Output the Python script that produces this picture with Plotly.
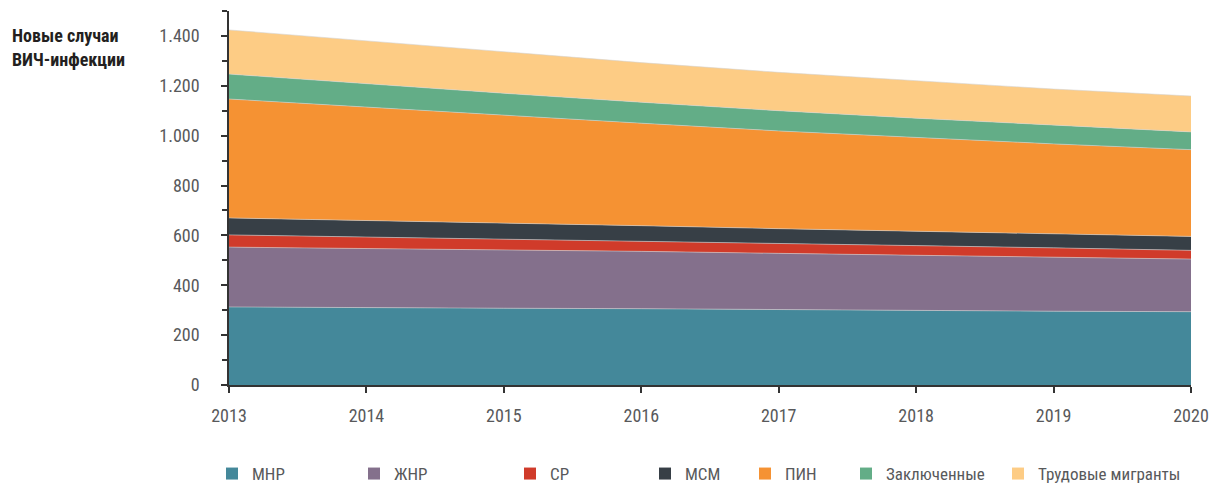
import plotly.graph_objects as go

years = [2013, 2014, 2015, 2016, 2017, 2018, 2019, 2020]
series_names = ["МНР", "ЖНР", "СР", "МСМ", "ПИН", "Заключенные", "Трудовые мигранты"]
mnr = [313, 312, 308, 306, 302, 300, 296, 294]
zhnr = [240, 236, 236, 230, 226, 221, 219, 211]
sr = [49, 46, 42, 42, 39, 38, 35, 35]
msm = [68, 66, 65, 61, 60, 57, 56, 56]
pin = [477, 454, 429, 411, 392, 376, 361, 348]
zak = [100, 93, 90, 84, 81, 78, 75, 71]
trud = [177, 173, 164, 159, 154, 149, 145, 144]
y_ticks = [0, 200, 400, 600, 800, 1000, 1200, 1400]

values = [mnr, zhnr, sr, msm, pin, zak, trud]
colors = ["#44889a", "#84708c", "#d03b2a", "#373f46", "#f59233", "#63ad87", "#fdcc85"]
legend_px = [233, 375, 531, 666, 766, 867, 1019]

FONT = "Roboto Condensed, DejaVu Sans Condensed, sans-serif"
GREY = "#58595b"

W, H = 1213, 484
L, T = 229, 11
R = W - 1191
B = H - 385
pw = W - L - R
ph = H - T - B


def fx(p):
    return (p - L) / pw


def fy(p):
    return (H - B - p) / ph


fig = go.Figure()
for name, vals, col in zip(series_names, values, colors):
    fig.add_trace(go.Scatter(
        x=years, y=vals, name=name, stackgroup="one", mode="lines",
        line=dict(width=0.8, color="rgba(210,210,210,0.7)"),
        fillcolor=col, showlegend=False, hoverinfo="x+y+name"))

layout_legends = {}
for i, (name, col, px) in enumerate(zip(series_names, colors, legend_px)):
    key = "legend" if i == 0 else f"legend{i+1}"
    fig.add_trace(go.Scatter(
        x=[None], y=[None], mode="markers", name=name,
        marker=dict(symbol="square", size=12, color=col),
        legend=key, showlegend=True))
    layout_legends[key] = dict(
        x=fx(px - 21), xanchor="left",
        y=fy(474), yanchor="middle", orientation="h",
        font=dict(family=FONT, size=17, color=GREY),
        bgcolor="rgba(0,0,0,0)", borderwidth=0, tracegroupgap=0,
        itemclick=False, itemdoubleclick=False)

fig.update_layout(
    width=W, height=H,
    margin=dict(l=L, r=R, t=T, b=B, autoexpand=False),
    plot_bgcolor="white", paper_bgcolor="white",
    separators=",.",
    font=dict(family=FONT, size=18, color=GREY),
    xaxis=dict(
        range=[2013, 2020], tickvals=years, ticktext=[str(y) for y in years],
        showgrid=False, zeroline=False, showline=True, linecolor="#333333", linewidth=1.5,
        ticks="outside", ticklen=6, tickcolor="#333333", tickwidth=1.5,
        ticklabelstandoff=8, automargin=False,
        tickfont=dict(family=FONT, size=18, color=GREY)),
    yaxis=dict(
        range=[0, 1500], tickvals=y_ticks, tickformat=",d",
        showgrid=False, zeroline=False, showline=True, linecolor="#333333", linewidth=1.5,
        ticks="outside", ticklen=6, tickcolor="#333333", tickwidth=1.5,
        minor=dict(dtick=100, tick0=0, ticks="outside", ticklen=5, tickcolor="#333333", tickwidth=1.5),
        ticklabelstandoff=18, automargin=False,
        tickfont=dict(family=FONT, size=18, color=GREY)),
    annotations=[
        dict(text="<b>Новые случаи</b>", xref="paper", yref="paper",
             x=fx(10), y=fy(35), xanchor="left", yanchor="middle",
             align="left", showarrow=False,
             font=dict(family=FONT, size=18, color="#231f20")),
        dict(text="<b>ВИЧ-инфекции</b>", xref="paper", yref="paper",
             x=fx(10), y=fy(60), xanchor="left", yanchor="middle",
             align="left", showarrow=False,
             font=dict(family=FONT, size=18, color="#231f20")),
    ],
    **layout_legends,
)

fig.write_html("out.html", config={"displayModeBar": False},
               post_script="document.body.style.margin='0';document.body.style.overflow='hidden';")
